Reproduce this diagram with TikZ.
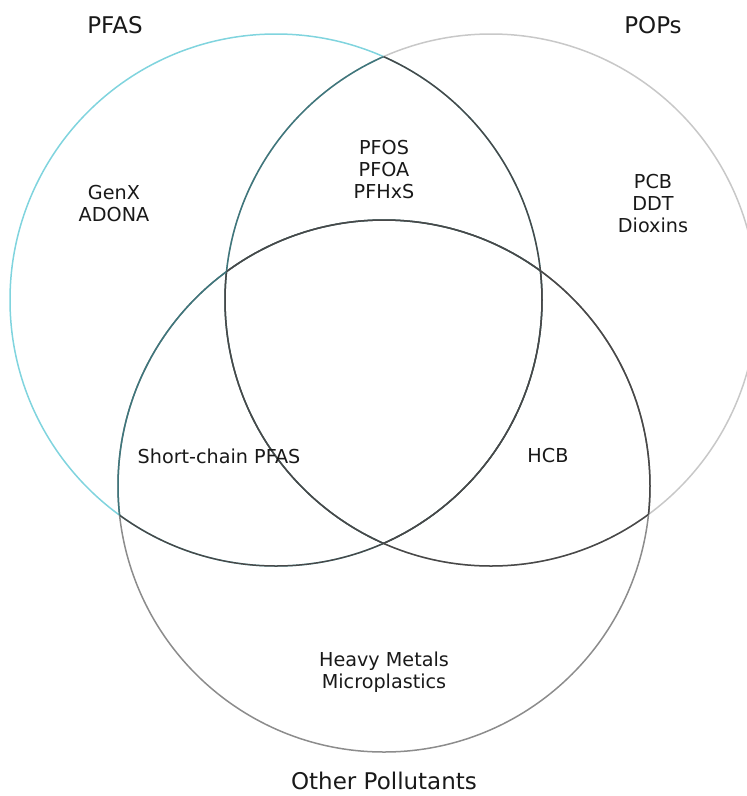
\documentclass[tikz,border=0pt]{standalone}
\usepackage{fontspec}
\setmainfont{DejaVu Sans}
\definecolor{cyanc}{RGB}{128,212,222}
\definecolor{tealc}{RGB}{62,118,124}
\definecolor{darkc}{RGB}{72,72,72}
\definecolor{midc}{RGB}{140,140,140}
\definecolor{lightc}{RGB}{200,200,200}
\tikzset{
  ring/.style={line width=1.5pt},
  lbl/.style={align=center, text=black!90, inner sep=0pt, font=\fontsize{19.2}{22}\selectfont},
  ttl/.style={text=black!90, inner sep=0pt, font=\fontsize{23}{27}\selectfont}
}
\begin{document}
\begin{tikzpicture}[x=1pt,y=-1pt]
\useasboundingbox (0,0) rectangle (747,796);
\coordinate (ca) at (276,300);
\coordinate (cb) at (491,300);
\coordinate (cc) at (384,486);
\def\rr{266}
% base outlines
\draw[ring, cyanc] (ca) circle[radius=\rr];
\draw[ring, lightc] (cb) circle[radius=\rr];
\draw[ring, midc] (cc) circle[radius=\rr];
% A inside B or C
\begin{scope}
  \clip (cb) circle[radius=\rr];
  \draw[ring, darkc] (ca) circle[radius=\rr];
\end{scope}
\begin{scope}
  \clip (cc) circle[radius=\rr];
  \draw[ring, darkc] (ca) circle[radius=\rr];
\end{scope}
% B inside A (teal), inside C (dark)
\begin{scope}
  \clip (ca) circle[radius=\rr];
  \draw[ring, tealc] (cb) circle[radius=\rr];
\end{scope}
\begin{scope}
  \clip (cc) circle[radius=\rr];
  \draw[ring, darkc] (cb) circle[radius=\rr];
\end{scope}
% C inside A (teal), inside B (dark)
\begin{scope}
  \clip (ca) circle[radius=\rr];
  \draw[ring, tealc] (cc) circle[radius=\rr];
\end{scope}
\begin{scope}
  \clip (cb) circle[radius=\rr];
  \draw[ring, darkc] (cc) circle[radius=\rr];
\end{scope}
% titles
\node[ttl] (tpfas) at (115,25) {PFAS};
\node[ttl] (tpops) at (653,25) {POPs};
\node[ttl] (tother) at (384,781) {Other Pollutants};
% labels
\node[lbl] (la) at (114,204) {GenX\\ADONA};
\node[lbl] (lab) at (384,170) {PFOS\\PFOA\\PFHxS};
\node[lbl] (lb) at (653,204) {PCB\\DDT\\Dioxins};
\node[lbl] (lac) at (219,456) {Short-chain PFAS};
\node[lbl] (lbc) at (548,456) {HCB};
\node[lbl] (lc) at (384,672) {Heavy Metals\\Microplastics};
\end{tikzpicture}
\end{document}
